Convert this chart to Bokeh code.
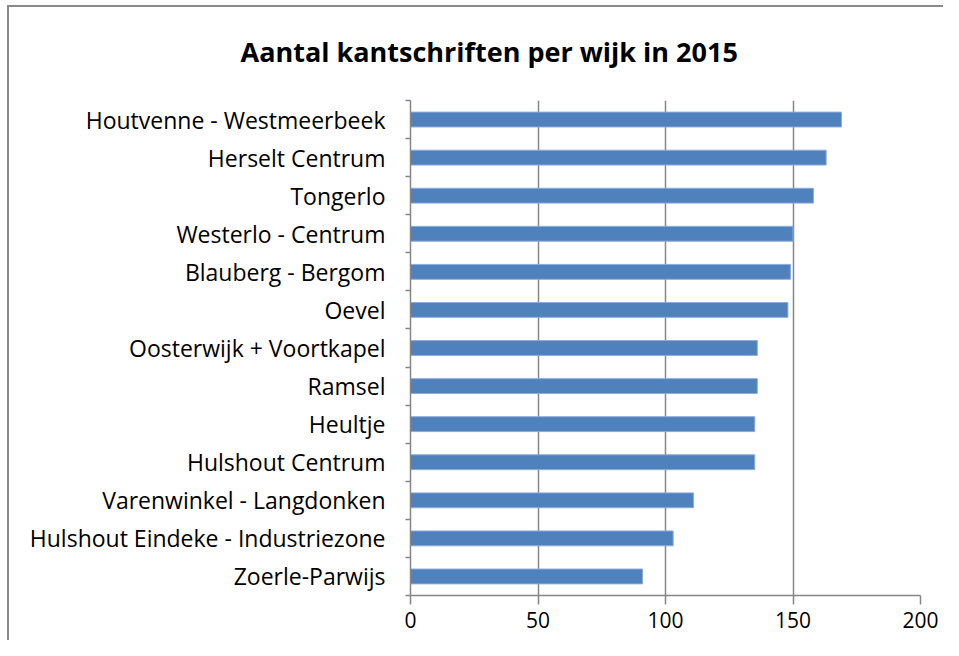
from bokeh.plotting import figure
from bokeh.models import ColumnDataSource, FixedTicker, Range1d, Title
from bokeh.embed import file_html
from bokeh.resources import INLINE

categories = [
    "Houtvenne - Westmeerbeek",
    "Herselt Centrum",
    "Tongerlo",
    "Westerlo - Centrum",
    "Blauberg - Bergom",
    "Oevel",
    "Oosterwijk + Voortkapel",
    "Ramsel",
    "Heultje",
    "Hulshout Centrum",
    "Varenwinkel - Langdonken",
    "Hulshout Eindeke - Industriezone",
    "Zoerle-Parwijs",
]
values = [169, 163, 158, 150, 149, 148, 136, 136, 135, 135, 111, 103, 91]
x_ticks = [0, 50, 100, 150, 200]
title_text = "Aantal kantschriften per wijk  in 2015"

n = len(categories)
ypos = [n - 0.5 - i for i in range(n)]
src = ColumnDataSource(dict(cat=categories, val=values, y=ypos))

FONT = "Open Sans"
GRID = "#868686"
BORDER = "#8a8a8a"

p = figure(width=943, height=640, output_backend="svg", toolbar_location=None,
           x_range=Range1d(0, 200), y_range=Range1d(0, n),
           min_border_left=410, min_border_right=23, min_border_top=100,
           min_border_bottom=45)
p.outline_line_color = None
p.background_fill_color = "white"
p.border_fill_color = None
p.styles = {
    "background": (f"linear-gradient({BORDER},{BORDER}) 7px 5px / 2px calc(100% - 5px) no-repeat, "
                   f"linear-gradient({BORDER},{BORDER}) 7px 5px / calc(100% - 7px) 2px no-repeat, "
                   "#ffffff"),
}

p.hbar(y="y", right="val", left=0, height=0.39, source=src,
       fill_color="#4F81BD", line_color="#8EAADB", line_width=1)

# x axis
xa = p.xaxis[0]
xa.ticker = FixedTicker(ticks=x_ticks)
xa.axis_line_color = GRID
xa.axis_line_width = 1.5
xa.major_tick_line_color = GRID
xa.major_tick_line_width = 1.5
xa.major_tick_in = 0
xa.major_tick_out = 9
xa.minor_tick_line_color = None
xa.major_label_text_font = FONT
xa.major_label_text_font_size = "21px"
xa.major_label_text_color = "black"
xa.major_label_standoff = 7

# y axis: labels at centers, ticks between categories
ya = p.yaxis[0]
ya.ticker = FixedTicker(ticks=ypos, minor_ticks=list(range(n + 1)))
ya.major_label_overrides = {y: c for y, c in zip(ypos, categories)}
ya.axis_line_color = GRID
ya.axis_line_width = 1.5
ya.major_tick_line_color = None
ya.minor_tick_line_color = GRID
ya.minor_tick_line_width = 1.5
ya.minor_tick_in = 0
ya.minor_tick_out = 5
ya.major_label_text_font = FONT
ya.major_label_text_font_size = "23px"
ya.major_label_text_color = "black"
ya.major_label_standoff = 19

p.xgrid.ticker = FixedTicker(ticks=x_ticks)
p.xgrid.grid_line_color = GRID
p.xgrid.grid_line_width = 1.5
p.ygrid.grid_line_color = None

p.title = Title(text=title_text, align="left", offset=-170, standoff=61,
                text_font=FONT, text_font_size="27px", text_font_style="bold",
                text_color="black")

open("out.html", "w").write(file_html(p, INLINE))
